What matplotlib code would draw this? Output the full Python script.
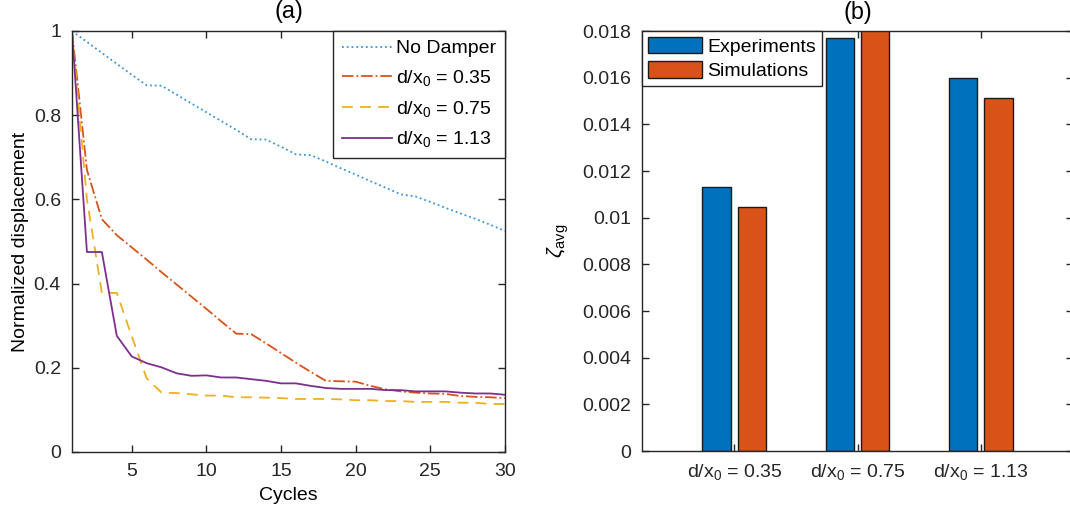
import matplotlib
matplotlib.use("Agg")
import matplotlib.pyplot as plt
from matplotlib.patches import Patch
import numpy as np

plt.rcParams['font.family'] = ['Liberation Sans', 'DejaVu Sans']
plt.rcParams['mathtext.fontset'] = 'custom'
plt.rcParams['mathtext.rm'] = 'Liberation Sans'
plt.rcParams['mathtext.it'] = 'Liberation Sans:italic'
plt.rcParams['font.size'] = 14

# (a) normalized displacement per cycle
cycles = np.arange(1, 31)
noDamper = [1.0, 0.974, 0.948, 0.922, 0.896, 0.871, 0.870, 0.849, 0.828, 0.807,
            0.786, 0.765, 0.743, 0.742, 0.725, 0.707, 0.705, 0.690, 0.674, 0.659,
            0.643, 0.628, 0.612, 0.607, 0.594, 0.580, 0.567, 0.554, 0.540, 0.525]
d035 = [1.0, 0.670, 0.553, 0.515, 0.486, 0.457, 0.427, 0.398, 0.369, 0.340,
        0.310, 0.281, 0.280, 0.258, 0.235, 0.212, 0.190, 0.169, 0.168, 0.167,
        0.157, 0.149, 0.144, 0.141, 0.139, 0.138, 0.133, 0.131, 0.130, 0.128]
d075 = [1.0, 0.600, 0.378, 0.378, 0.275, 0.175, 0.141, 0.140, 0.137, 0.134,
        0.134, 0.130, 0.130, 0.129, 0.128, 0.126, 0.126, 0.126, 0.125, 0.123,
        0.123, 0.121, 0.121, 0.119, 0.119, 0.119, 0.117, 0.117, 0.114, 0.114]
d113 = [1.0, 0.475, 0.475, 0.276, 0.227, 0.211, 0.201, 0.187, 0.181, 0.182,
        0.177, 0.177, 0.173, 0.169, 0.163, 0.163, 0.157, 0.152, 0.150, 0.150,
        0.150, 0.147, 0.147, 0.144, 0.144, 0.144, 0.141, 0.139, 0.139, 0.136]

# (b) average damping ratio
ratios = ['d/x$_0$ = 0.35', 'd/x$_0$ = 0.75', 'd/x$_0$ = 1.13']
experiments = [0.01130, 0.01772, 0.01597]
simulations = [0.01046, 0.01830, 0.01512]

blue = '#0072BD'
orange = '#D95319'
yellow = '#EDB120'
purple = '#7E2F8E'

fig = plt.figure(figsize=(10.7, 5.13), dpi=100)

ax1 = fig.add_axes([72 / 1070, 61 / 513, 433 / 1070, 421 / 513])
ax1.plot(cycles, noDamper, ':', color='#3a93d8', lw=1.3, label='No Damper')
ax1.plot(cycles, d035, '-.', color=orange, lw=1.3, label='d/x$_0$ = 0.35')
ax1.plot(cycles, d075, '--', color=yellow, lw=1.3, dashes=(6, 4), label='d/x$_0$ = 0.75')
ax1.plot(cycles, d113, '-', color=purple, lw=1.3, label='d/x$_0$ = 1.13')
ax1.set_xlim(1, 30)
ax1.set_ylim(0, 1)
ax1.set_xticks([5, 10, 15, 20, 25, 30])
ax1.set_yticks([0, 0.2, 0.4, 0.6, 0.8, 1])
ax1.set_yticklabels(['0', '0.2', '0.4', '0.6', '0.8', '1'])
ax1.set_xlabel('Cycles', labelpad=5)
ax1.set_ylabel('Normalized displacement', labelpad=3)
ax1.set_title('(a)', pad=9)
leg1 = ax1.legend(loc='upper right', handlelength=2.6, borderaxespad=0,
                  fancybox=False, edgecolor='#262626', framealpha=1,
                  labelspacing=0.55, borderpad=0.45, handletextpad=0.2)
leg1.get_frame().set_linewidth(1.0)

ax2 = fig.add_axes([642 / 1070, 62 / 513, 431 / 1070, 420 / 513])
x = np.arange(1, 4)
ax2.bar(x - 0.143, experiments, width=0.232, color=blue, edgecolor='#1a1a1a',
        linewidth=1.0, label='Experiments')
ax2.bar(x + 0.143, simulations, width=0.232, color=orange, edgecolor='#1a1a1a',
        linewidth=1.0, label='Simulations')
ax2.set_xlim(0.25, 3.75)
ax2.set_ylim(0, 0.018)
ax2.set_xticks(x)
ax2.set_xticklabels(ratios)
ax2.set_yticks(np.arange(0, 0.0181, 0.002))
ax2.set_yticklabels(['0', '0.002', '0.004', '0.006', '0.008', '0.01', '0.012',
                     '0.014', '0.016', '0.018'])
ax2.set_ylabel(r'$\zeta_{\mathrm{avg}}$', labelpad=8, fontsize=15)
ax2.set_title('(b)', pad=9)
handles = [Patch(facecolor=blue, edgecolor='#1a1a1a', linewidth=1.0),
           Patch(facecolor=orange, edgecolor='#1a1a1a', linewidth=1.0)]
leg2 = ax2.legend(handles, ['Experiments', 'Simulations'], loc='upper left',
                  handlelength=2.8, handleheight=0.9, borderaxespad=0,
                  fancybox=False, edgecolor='#262626', framealpha=1,
                  labelspacing=0.3, borderpad=0.3, handletextpad=0.25)
leg2.get_frame().set_linewidth(1.0)

for ax in (ax1, ax2):
    ax.tick_params(direction='in', top=True, right=True, length=5, width=1,
                   colors='#262626', labelcolor='#262626', pad=8)
    for s in ax.spines.values():
        s.set_linewidth(1.0)
        s.set_color('#262626')

fig.savefig('out.png', dpi=100)
